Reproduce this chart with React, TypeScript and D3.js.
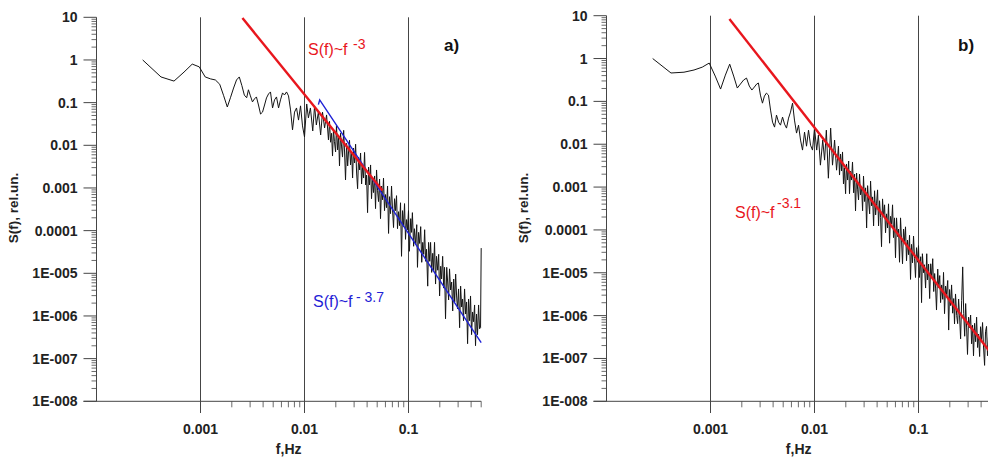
import React from 'react';
import * as d3 from 'd3';

// Frequencies (Hz) shared by both spectra: first FFT bins, then points
const freqLow: number[] = [
  0.000278, 0.000417, 0.000556, 0.000694, 0.000833, 0.000972, 0.00111, 0.00125, 0.00139, 0.00153,
  0.00167, 0.00181, 0.00194, 0.00208, 0.00222, 0.00236, 0.0025, 0.00264, 0.00278,
];
const freqMid: number[] = [
  0.00289, 0.00302, 0.00316, 0.0033, 0.00345, 0.00361, 0.00378, 0.00395, 0.00413, 0.00431,
  0.00451, 0.00471, 0.00493, 0.00515, 0.00538, 0.00563, 0.00588, 0.00615, 0.00642, 0.00672,
  0.00702, 0.00734, 0.00767, 0.00802, 0.00838, 0.00876, 0.00916, 0.00957, 0.01, 0.0105,
  0.0109, 0.0114, 0.012, 0.0125, 0.013, 0.0136, 0.0143, 0.0149, 0.0156, 0.0163, 0.017,
];
const freqHigh: number[] = [
  0.0174, 0.0178, 0.0182, 0.0186, 0.019, 0.0194, 0.0199, 0.0203, 0.0208, 0.0213,
  0.0217, 0.0222, 0.0227, 0.0232, 0.0238, 0.0243, 0.0248, 0.0254, 0.026, 0.0265,
  0.0271, 0.0277, 0.0284, 0.029, 0.0296, 0.0303, 0.031, 0.0317, 0.0324, 0.0331,
  0.0339, 0.0346, 0.0354, 0.0362, 0.037, 0.0378, 0.0387, 0.0395, 0.0404, 0.0413,
  0.0422, 0.0432, 0.0441, 0.0451, 0.0461, 0.0472, 0.0482, 0.0493, 0.0504, 0.0515,
  0.0527, 0.0538, 0.0551, 0.0563, 0.0575, 0.0588, 0.0601, 0.0615, 0.0629, 0.0643,
  0.0657, 0.0672, 0.0687, 0.0702, 0.0718, 0.0734, 0.075, 0.0767, 0.0784, 0.0802,
  0.082, 0.0838, 0.0857, 0.0876, 0.0896, 0.0916, 0.0936, 0.0957, 0.0979, 0.1,
  0.102, 0.105, 0.107, 0.109, 0.112, 0.114, 0.117, 0.12, 0.122, 0.125,
  0.128, 0.131, 0.134, 0.137, 0.14, 0.143, 0.146, 0.149, 0.153, 0.156,
  0.16, 0.163, 0.167, 0.171, 0.174, 0.178, 0.182, 0.186, 0.191, 0.195,
  0.199, 0.204, 0.208, 0.213, 0.218, 0.222, 0.227, 0.233, 0.238, 0.243,
  0.248, 0.254, 0.26, 0.266, 0.272, 0.278, 0.284, 0.29, 0.296, 0.303,
  0.31, 0.317, 0.324, 0.331, 0.338, 0.346, 0.354, 0.362, 0.37, 0.378,
  0.387, 0.395, 0.404, 0.413, 0.422, 0.432, 0.441, 0.451, 0.461, 0.472,
  0.482, 0.493, 0.5,
];
const freqHz: number[] = [...freqLow, ...freqMid, ...freqHigh];

// Panel a) spectrum S(f), rel.un.
const spectrumA: number[] = [
  // low bins
  1.0, 0.40, 0.32, 0.52, 0.80, 0.69, 0.40, 0.36, 0.34, 0.27,
  0.145, 0.079, 0.13, 0.22, 0.34, 0.40, 0.25, 0.15, 0.13,
  // mid
  0.20, 0.144, 0.104, 0.122, 0.136, 0.088, 0.054, 0.060, 0.088, 0.129,
  0.160, 0.178, 0.075, 0.116, 0.136, 0.075, 0.116, 0.169, 0.151, 0.178,
  0.144, 0.0675, 0.023, 0.060, 0.075, 0.039, 0.084, 0.0285, 0.0157, 0.093,
  0.044, 0.075, 0.0217, 0.084, 0.030, 0.060, 0.0175, 0.060, 0.0255, 0.0515, 0.0134,
  // high
  0.0365, 0.0118, 0.0191, 0.0056, 0.0237, 0.0124, 0.0070, 0.0294, 0.0078, 0.0154,
  0.00328, 0.0191, 0.0096, 0.0053, 0.0224, 0.0066, 0.00154, 0.0111, 0.00328, 0.0070,
  0.0131, 0.00346, 0.0070, 0.00171, 0.00863, 0.00385, 0.0106, 0.00224, 0.00096, 0.0053,
  0.00264, 0.0066, 0.00124, 0.00328, 0.00171, 0.0068, 0.00118, 0.00201, 0.000264, 0.0031,
  0.00118, 0.00346, 0.00056, 0.00171, 0.00078, 0.00191, 0.000328, 0.00264, 0.00086, 0.00048,
  0.00162, 0.000191, 0.00111, 0.00053, 0.00171, 0.000294, 0.0007, 0.000346, 0.00111, 8.6e-5,
  0.000625, 0.00025, 0.00111, 0.00031, 0.000118, 0.00056, 0.000294, 0.00066, 0.000111, 0.000278,
  0.000131, 0.00045, 2.5e-5, 0.000294, 0.000124, 0.00043, 6.25e-5, 0.000181, 0.000105, 0.000294,
  3.28e-5, 0.000191, 9.1e-5, 0.000264, 4.3e-5, 0.000111, 4.8e-5, 0.000138, 1.38e-5, 9.1e-5,
  5.0e-5, 0.000124, 1.81e-5, 5.3e-5, 2.78e-5, 0.000105, 1.91e-5, 3.65e-5, 5.0e-6, 5.3e-5,
  1.91e-5, 5.3e-5, 1.05e-5, 2.94e-5, 1.18e-5, 5.3e-5, 5.6e-6, 2.5e-5, 1.18e-5, 2.78e-5,
  2.94e-6, 1.46e-5, 7.35e-6, 2.5e-5, 4.5e-6, 1.38e-5, 8.6e-7, 1.38e-5, 6.25e-6, 2.37e-6,
  1.27e-5, 4.06e-6, 6.25e-6, 1.31e-6, 7.35e-6, 2.13e-6, 9.6e-6, 2.94e-6, 1.46e-6, 4.3e-6,
  5.3e-7, 5.0e-6, 1.62e-6, 2.5e-6, 7.75e-7, 4.3e-6, 1.11e-6, 2.13e-6, 2.24e-7, 2.5e-6,
  7.75e-7, 2.94e-6, 3.65e-7, 1.24e-6, 7.35e-7, 1.81e-6, 2.01e-7, 1.11e-6, 3.65e-7, 1.81e-6,
  5.0e-7, 5.3e-7, 3.9e-5,
];

// Panel b) spectrum S(f), rel.un.
const spectrumB: number[] = [
  // low bins
  1.0, 0.46, 0.48, 0.54, 0.63, 0.785, 0.39, 0.194, 0.41, 0.74,
  0.39, 0.205, 0.254, 0.315, 0.35, 0.228, 0.184, 0.216, 0.254,
  // mid
  0.268, 0.140, 0.091, 0.133, 0.156, 0.140, 0.0626, 0.0328, 0.0251, 0.0479,
  0.0328, 0.0279, 0.043, 0.0295, 0.0238, 0.0407, 0.0562, 0.091, 0.0366, 0.0182,
  0.0279, 0.0125, 0.0073, 0.0192, 0.0090, 0.0213, 0.0095, 0.0073, 0.0238, 0.0073,
  0.0163, 0.00325, 0.0125, 0.00426, 0.0213, 0.00161, 0.0238, 0.00325, 0.0125, 0.00248, 0.0090,
  // high
  0.00191, 0.0059, 0.00237, 0.0066, 0.00118, 0.00278, 0.0007, 0.00346, 0.00146, 0.00406,
  0.0007, 0.00237, 0.00146, 0.00385, 0.000735, 0.00201, 0.000278, 0.00213, 0.00086, 0.0005,
  0.00201, 0.00066, 0.00096, 0.00028, 0.00181, 0.00046, 0.00096, 0.000111, 0.00108, 0.0005,
  0.000237, 0.00138, 0.000365, 0.00059, 0.000124, 0.00082, 0.000224, 0.000406, 0.00086, 0.000124,
  0.00048, 0.000196, 4.06e-5, 0.00053, 0.000201, 0.000385, 8.6e-5, 0.000237, 0.000111, 0.000406,
  4.9e-5, 0.000207, 0.000138, 0.000385, 6.6e-5, 0.000191, 2.24e-5, 0.000191, 7.0e-5, 0.000105,
  1.76e-5, 0.000191, 5.8e-5, 1.62e-5, 0.000105, 5.3e-5, 0.000118, 1.91e-5, 5.8e-5, 2.64e-5,
  7.5e-5, 7.0e-6, 4.6e-5, 1.71e-5, 7.2e-5, 2.13e-5, 7.75e-6, 3.85e-5, 1.76e-5, 4.3e-5,
  7.75e-6, 2.37e-5, 2.01e-6, 2.78e-5, 1.0e-5, 1.54e-5, 4.4e-6, 2.78e-5, 6.8e-6, 1.6e-5,
  2.5e-6, 1.62e-5, 7.75e-6, 2.13e-5, 3.65e-6, 9.6e-6, 4.4e-6, 1.35e-6, 1.22e-5, 4.5e-6,
  8.6e-6, 2.01e-6, 5.2e-6, 2.4e-6, 1.02e-5, 1.11e-6, 4.9e-6, 3.1e-6, 6.6e-6, 4.6e-7,
  4.06e-6, 1.71e-6, 5.2e-6, 1.14e-6, 2.5e-6, 6.4e-7, 3.2e-6, 1.0e-6, 6.5e-7, 2.44e-6,
  1.02e-6, 2.87e-7, 2.27e-6, 1.37e-5, 1.13e-6, 3.3e-7, 1.91e-6, 5.4e-7, 1.24e-7, 9.2e-7,
  5.2e-7, 1.03e-6, 2.2e-7, 6.0e-7, 1.15e-7, 6.6e-7, 2.46e-7, 9.2e-7, 1.8e-7, 3.7e-7,
  1.11e-7, 5.5e-7, 2.64e-7, 6.9e-7, 1.85e-7, 6.9e-8, 4.2e-7, 5.6e-7, 1.16e-7, 3.5e-7,
  1.8e-7, 4.9e-7, 1.24e-7,
];

// Power-law fits: [f, S] end points
const redFitA: [number, number][] = [[0.00253, 9.6], [0.0562, 8.7e-4]];
const blueFitA: [number, number][] = [[0.0136, 0.09], [0.014, 0.116], [0.5, 2.36e-7]];
const redFitB: [number, number][] = [[0.00152, 8.4], [0.5, 1.32e-7]];

const yTickValues = [10, 1, 0.1, 0.01, 0.001, 1e-4, 1e-5, 1e-6, 1e-7, 1e-8];
const yTickLabels = ['10', '1', '0.1', '0.01', '0.001', '0.0001', '1E-005', '1E-006', '1E-007', '1E-008'];
const xTickValues = [0.001, 0.01, 0.1];
const xTickLabels = ['0.001', '0.01', '0.1'];
const xDomain: [number, number] = [1e-4, 0.5];
const yDomain: [number, number] = [1e-8, 10];

const FONT = '"Liberation Sans", Arial, Helvetica, sans-serif';
const AXIS = '#454545';
const RED = '#e8161d';
const BLUE = '#1f22d6';

type Fit = { pts: [number, number][]; color: string; width: number };

function Panel({ axisX, yTop, spectrum, fits, children }: {
  axisX: number; yTop: number; spectrum: number[]; fits: Fit[]; children?: React.ReactNode;
}) {
  const yBottom = 401.3;
  const xS = d3.scaleLog().domain(xDomain).range([axisX, axisX + 104 * Math.log10(xDomain[1] / xDomain[0])]);
  const yS = d3.scaleLog().domain(yDomain).range([yBottom, yTop]);
  const line = d3.line<[number, number]>().x(d => xS(d[0])).y(d => yS(d[1]));
  const pts: [number, number][] = freqHz.map((f, i) => [f, spectrum[i]]);
  const majorsY = new Set(yTickValues.map(v => Math.round(Math.log10(v) * 1000)));
  const minorY = yS.ticks().filter(v => !majorsY.has(Math.round(Math.log10(v) * 1000)));
  const minorX = xS.ticks().filter(v => v > 0.0011 && !xTickValues.some(m => Math.abs(m - v) / m < 1e-6));
  const xEnd = xS(xDomain[1]);
  return (
    <g>
      {xTickValues.map(v => (
        <line key={'g' + v} x1={xS(v)} x2={xS(v)} y1={yTop} y2={413} stroke={AXIS} strokeWidth={1} />
      ))}
      <line x1={axisX} x2={axisX} y1={yTop} y2={yBottom} stroke={AXIS} strokeWidth={1} />
      {yTickValues.map(v => (
        <line key={'yt' + v} x1={axisX - 13} x2={axisX} y1={yS(v)} y2={yS(v)} stroke={AXIS} strokeWidth={1} />
      ))}
      {minorY.map((v, i) => (
        <line key={'ym' + i} x1={axisX - 5} x2={axisX} y1={yS(v)} y2={yS(v)} stroke={AXIS} strokeWidth={0.8} />
      ))}
      {yTickValues.map((v, i) => (
        <text key={'yl' + v} x={axisX - 19} y={yS(v) + 5} textAnchor="end" fontFamily={FONT}
          fontWeight="bold" fontSize={14} fill="#222">{yTickLabels[i]}</text>
      ))}
      <line x1={axisX - 13} x2={xEnd} y1={yBottom} y2={yBottom} stroke={AXIS} strokeWidth={1} />
      {minorX.map((v, i) => (
        <line key={'xm' + i} x1={xS(v)} x2={xS(v)} y1={yBottom} y2={yBottom + 6} stroke={AXIS} strokeWidth={0.8} />
      ))}
      {xTickValues.map((v, i) => (
        <text key={'xl' + v} x={xS(v)} y={434} textAnchor="middle" fontFamily={FONT}
          fontWeight="bold" fontSize={14} fill="#222">{xTickLabels[i]}</text>
      ))}
      <text x={xS(0.0105) - 18} y={454} textAnchor="middle" fontFamily={FONT} fontWeight="bold" fontSize={14} fill="#222">f,Hz</text>
      <text transform={`translate(${axisX - 79},208) rotate(-90)`} textAnchor="middle" fontFamily={FONT}
        fontWeight="bold" fontSize={13.5} fill="#222">S(f), rel.un.</text>
      <path d={line(pts) || ''} fill="none" stroke="#141414" strokeWidth={1} strokeLinejoin="round" />
      {fits.map((ft, i) => (
        <path key={'f' + i} d={line(ft.pts) || ''} fill="none" stroke={ft.color} strokeWidth={ft.width} />
      ))}
      {children}
    </g>
  );
}

export default function App() {
  return (
    <svg width={988} height={458} style={{ position: 'absolute', left: 0, top: 0, background: '#fff' }}>
      <rect x={0} y={0} width={988} height={458} fill="#fff" />
      <Panel axisX={96.5} yTop={17.3} spectrum={spectrumA}
        fits={[{ pts: blueFitA, color: BLUE, width: 1.4 }, { pts: redFitA, color: RED, width: 2.4 }]}>
        <text x={308} y={55} fontFamily={FONT} fontSize={16} fill={RED}>S(f)~f</text>
        <text x={353} y={49} fontFamily={FONT} fontSize={14} fill={RED}>-3</text>
        <text x={444} y={51} fontFamily={FONT} fontWeight="bold" fontSize={17} fill="#111">a)</text>
        <text x={313} y={307} fontFamily={FONT} fontSize={16} fill={BLUE}>S(f)~f</text>
        <text x={356} y={302} fontFamily={FONT} fontSize={14} fill={BLUE}>- 3.7</text>
      </Panel>
      <Panel axisX={606.5} yTop={15.7} spectrum={spectrumB}
        fits={[{ pts: redFitB, color: RED, width: 2.4 }]}>
        <text x={735} y={218} fontFamily={FONT} fontSize={16} fill={RED}>S(f)~f</text>
        <text x={777} y={208} fontFamily={FONT} fontSize={14} fill={RED}>-3.1</text>
        <text x={958} y={51} fontFamily={FONT} fontWeight="bold" fontSize={17} fill="#111">b)</text>
      </Panel>
    </svg>
  );
}
